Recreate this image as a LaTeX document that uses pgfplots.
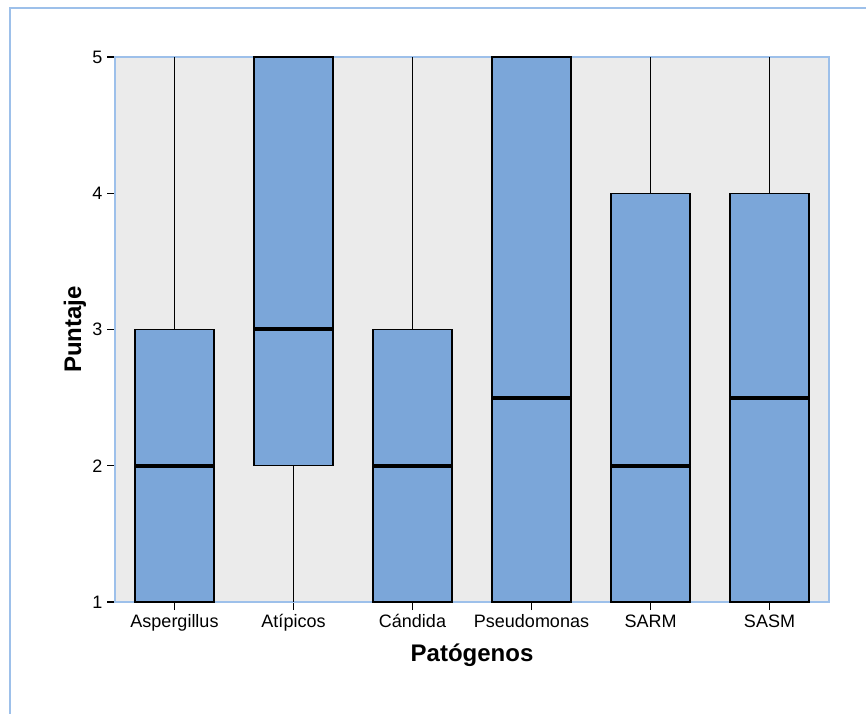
\documentclass[border=0pt]{standalone}
\usepackage{fontspec}
\setmainfont{Liberation Sans}
\usepackage{pgfplots}
\pgfplotsset{compat=1.18}
\usepgfplotslibrary{statistics}
\definecolor{boxfill}{HTML}{7BA6D9}
\definecolor{bggray}{HTML}{EBEBEB}
\definecolor{frameblue}{HTML}{9DC0EA}
\begin{document}
\begin{tikzpicture}[x=1pt,y=1pt]
\useasboundingbox (0,0) rectangle (649.5,534.75);
\draw[frameblue, line width=1.5pt] (7.5,-2) -- (7.5,528.75) -- (652,528.75);
\begin{axis}[at={(86.25pt,83.25pt)}, anchor=south west,
 width=535.5pt, height=408.75pt, scale only axis,
 xmin=-0.5, xmax=5.5, ymin=1, ymax=5,
 xtick={0,1,2,3,4,5},
 xticklabels={Aspergillus, Atípicos, Cándida, Pseudomonas, SARM, SASM},
 ytick={1,2,3,4,5},
 xtick pos=bottom, ytick pos=left, tick align=outside, major tick length=6pt,
 major tick style={black, line width=1pt},
 axis line style={frameblue, line width=1pt},
 axis background/.style={fill=bggray},
 tick label style={font=\fontsize{13.5}{16}\selectfont},
 /pgf/number format/assume math mode=true,
 xlabel={Patógenos}, ylabel={Puntaje},
 label style={font=\bfseries\fontsize{18}{21}\selectfont},
 xlabel style={at={(axis description cs:0.5,-0.0973)}, anchor=center},
 ylabel style={at={(axis description cs:-0.056,0.5)}, anchor=center},
 boxplot/draw direction=y,
 boxplot/box extend=0.665,
 boxplot/whisker extend=0,
 boxplot/every box/.style={line width=0.9pt},
 boxplot/every whisker/.style={line width=0.9pt},
 boxplot/every median/.style={line width=3pt},
]
\addplot[boxplot prepared={draw position=0, lower whisker=1, lower quartile=1, median=2, upper quartile=3, upper whisker=5}, draw=black, fill=boxfill] coordinates {};
\addplot[boxplot prepared={draw position=1, lower whisker=1, lower quartile=2, median=3, upper quartile=5, upper whisker=5}, draw=black, fill=boxfill] coordinates {};
\addplot[boxplot prepared={draw position=2, lower whisker=1, lower quartile=1, median=2, upper quartile=3, upper whisker=5}, draw=black, fill=boxfill] coordinates {};
\addplot[boxplot prepared={draw position=3, lower whisker=1, lower quartile=1, median=2.5, upper quartile=5, upper whisker=5}, draw=black, fill=boxfill] coordinates {};
\addplot[boxplot prepared={draw position=4, lower whisker=1, lower quartile=1, median=2, upper quartile=4, upper whisker=5}, draw=black, fill=boxfill] coordinates {};
\addplot[boxplot prepared={draw position=5, lower whisker=1, lower quartile=1, median=2.5, upper quartile=4, upper whisker=5}, draw=black, fill=boxfill] coordinates {};
\end{axis}
\end{tikzpicture}
\end{document}
